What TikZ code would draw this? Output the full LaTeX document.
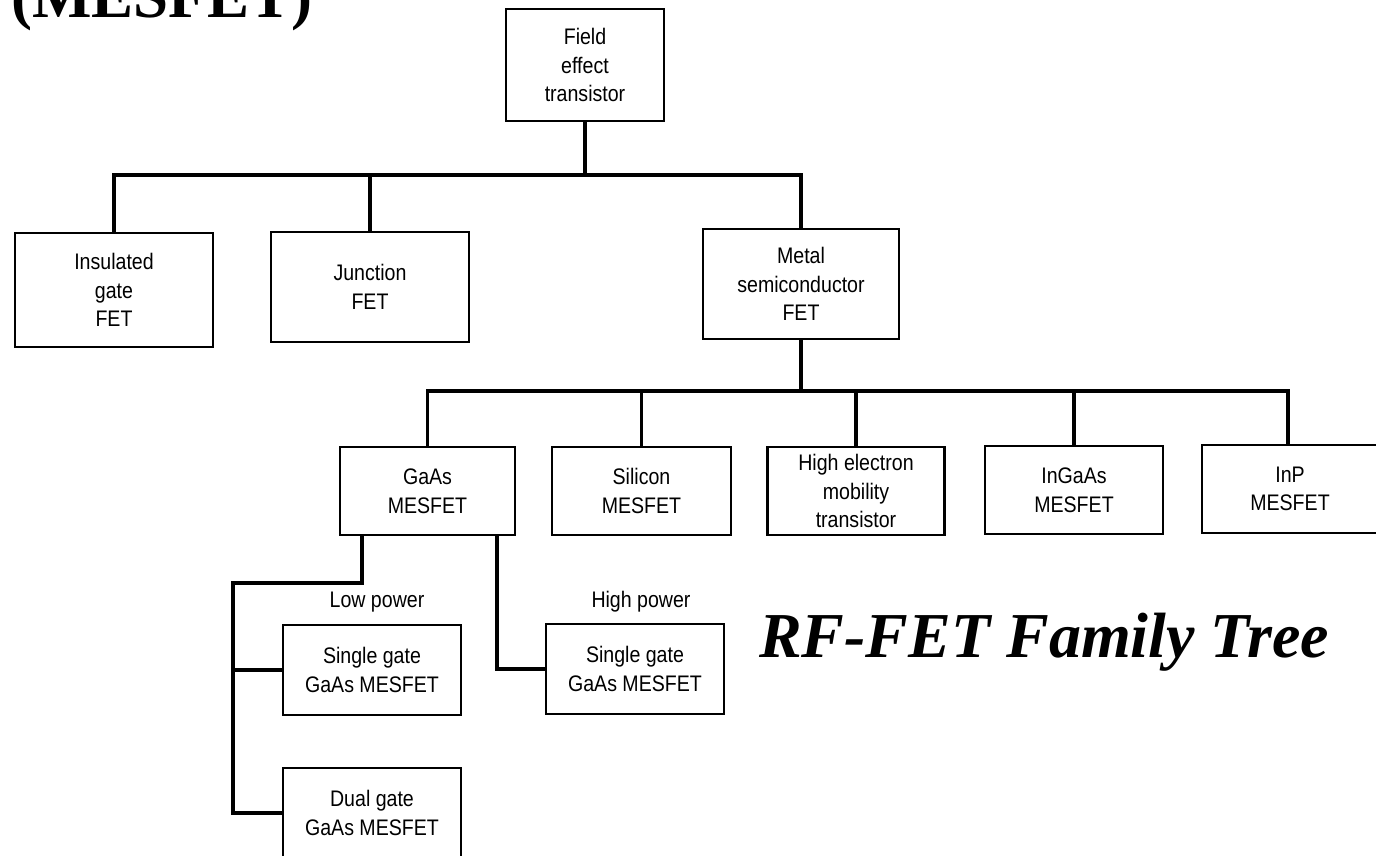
\documentclass[tikz,border=0pt]{standalone}
\usepackage{fontspec}
\setmainfont{Liberation Serif}
\newfontfamily\boxfont[FakeStretch=0.87]{Liberation Sans}
\newfontfamily\titlefont{Liberation Serif}
\begin{document}
\begin{tikzpicture}[x=1pt,y=-1pt,
  fbox/.style={draw=black,line width=2.4pt,inner sep=0pt,align=center,
    font=\boxfont\fontsize{22.5}{28.5}\selectfont},
  conn/.style={draw=black,line width=3.3pt},
  lbl/.style={inner sep=0pt,font=\boxfont\fontsize{22.5}{28}\selectfont}]
\useasboundingbox (0,0) rectangle (1376,855);
\clip (0,0) rectangle (1376,855);
\fill[white] (0,0) rectangle (1376,855);
% titles
\node[anchor=base west,inner sep=0pt,font=\titlefont\bfseries\fontsize{63}{70}\selectfont] (ttl) at (11,17) {(MESFET)};
\node[anchor=base west,inner sep=0pt,font=\titlefont\bfseries\itshape\fontsize{64}{70}\selectfont] (rft) at (759,657) {RF-FET Family Tree};
% level 0
\node[fbox,minimum width=158pt,minimum height=112pt] (fet) at (585,65) {Field\\effect\\transistor};
% level 1
\node[fbox,minimum width=198pt,minimum height=114pt] (ins) at (114,290) {Insulated\\gate\\FET};
\node[fbox,minimum width=198pt,minimum height=110pt] (jun) at (370,287) {Junction\\FET};
\node[fbox,minimum width=196pt,minimum height=110pt] (mes) at (801,284) {Metal\\semiconductor\\FET};
% level 2
\node[fbox,minimum width=175pt,minimum height=88pt] (gaas) at (427.5,491) {GaAs\\MESFET};
\node[fbox,minimum width=179pt,minimum height=88pt] (si) at (641.5,491) {Silicon\\MESFET};
\node[fbox,minimum width=177pt,minimum height=88pt] (hemt) at (856,491) {High electron\\mobility\\transistor};
\node[fbox,minimum width=178pt,minimum height=88pt] (ingaas) at (1074,490) {InGaAs\\MESFET};
\node[fbox,minimum width=176pt,minimum height=88pt] (inp) at (1290,489) {InP\\MESFET};
% level 3
\node[fbox,minimum width=178pt,minimum height=90pt] (sgl) at (372,670) {Single gate\\GaAs MESFET};
\node[fbox,minimum width=178pt,minimum height=90pt] (dual) at (372,813) {Dual gate\\GaAs MESFET};
\node[fbox,minimum width=178pt,minimum height=90pt] (sgh) at (635,669) {Single gate\\GaAs MESFET};
\node[lbl] (lowp) at (377,602) {Low power};
\node[lbl] (highp) at (641,602) {High power};
% connectors
\coordinate (busA) at (0,175);
\coordinate (busB) at (0,391);
\coordinate (lowbend) at (233,583);
\draw[conn] (fet.south) -- (fet.south |- busA);
\draw[conn] (ins.north) -- (ins.north |- busA) -- (mes.north |- busA) -- (mes.north);
\draw[conn] (jun.north) -- (jun.north |- busA);
\draw[conn] (mes.south) -- (mes.south |- busB);
\draw[conn] (gaas.north) -- (gaas.north |- busB) -- ([xshift=-2pt]inp.north |- busB) -- ([xshift=-2pt]inp.north);
\draw[conn] (si.north) -- (si.north |- busB);
\draw[conn] (hemt.north) -- (hemt.north |- busB);
\draw[conn] (ingaas.north) -- (ingaas.north |- busB);
\draw[conn] ([xshift=-65.5pt]gaas.south) |- (lowbend) |- (dual.west);
\draw[conn] (sgl.west) -- (sgl.west -| lowbend);
\draw[conn] ([xshift=69.5pt]gaas.south) |- (sgh.west);
\end{tikzpicture}
\end{document}
